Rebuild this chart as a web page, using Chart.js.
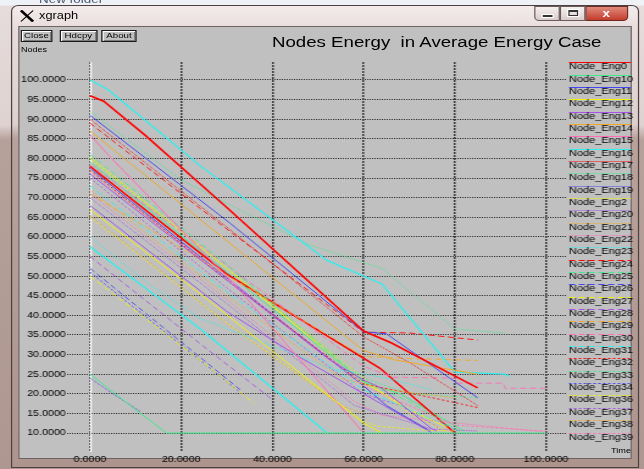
<!DOCTYPE html>
<html><head><meta charset="utf-8">
<script src="https://cdn.jsdelivr.net/npm/chart.js@4/dist/chart.umd.min.js"></script>
<style>
html,body{margin:0;padding:0;}
body{width:644px;height:469px;overflow:hidden;position:relative;background:linear-gradient(to bottom,#eef1f5 0,#eef1f5 5px,#e6dcdc 6px,#ded2d0 125px,#b6a09a 140px,#ae9790 100%);font-family:'Liberation Sans',Arial,sans-serif;}
#wrap{position:absolute;left:0;top:0;width:528px;height:469px;transform:scaleX(1.2197);transform-origin:0 0;}
.abs{position:absolute;white-space:pre;line-height:1;color:#000;}
#newf{left:32px;top:-6px;font-size:11px;color:#4a5872;}
#win{left:9px;top:5px;width:515px;height:463px;box-sizing:border-box;border:1px solid #4e4040;border-radius:6px 6px 0 0;background:linear-gradient(to bottom,#f3ecec 0,#e8dddc 22px,#ddd0ce 118px,#b9a29c 132px,#ad958e 100%);}
#client{left:14.8px;top:26px;width:503.2px;height:433px;box-sizing:border-box;background:#c0c0c0;border:1px solid #6e6262;}
.btn{position:absolute;top:30px;height:12px;box-sizing:border-box;border:1px solid #1a1a1a;background:#c0c0c0;box-shadow:inset 1px 1px 0 #fff,inset -1px -1px 0 #7a7a7a;font-size:8px;line-height:10px;text-align:center;color:#000;white-space:pre;}
.cap{position:absolute;top:6px;height:15px;box-sizing:border-box;border:1px solid #6a5a5a;background:linear-gradient(to bottom,#f6f0f0,#d9cdcc);}
</style></head>
<body>
<div id="wrap">
  <div id="newf" class="abs">New folder</div>
  <div id="win" class="abs"></div>
  <svg style="position:absolute;left:16.4px;top:10px;width:12.3px;height:12px" viewBox="0 0 12 12"><line x1="1" y1="0.5" x2="11" y2="11.5" stroke="#000" stroke-width="2.4"/><line x1="11" y1="0.5" x2="1" y2="11.5" stroke="#000" stroke-width="1.1"/></svg>
  <div class="abs" style="left:32px;top:9.6px;font-size:10.5px;">xgraph</div>
  <div class="cap" style="left:438px;width:21px;border-radius:0 0 0 4px;"><div style="position:absolute;left:6px;top:8px;width:8px;height:2px;background:#333;box-shadow:0 0 0 1px #fff"></div></div>
  <div class="cap" style="left:459px;width:21px;"><div style="position:absolute;left:5.5px;top:3px;width:8px;height:6px;box-sizing:border-box;border:1px solid #333;border-top-width:2px;box-shadow:0 0 0 1px #fff"></div></div>
  <div class="cap" style="left:480px;width:35px;border-radius:0 0 4px 0;background:linear-gradient(to bottom,#e08a7c,#c43c2c);border-color:#6a2a22;"><div class="abs" style="left:13px;top:1px;font-size:11px;font-weight:bold;color:#fff;">x</div></div>
  <div id="client" class="abs"></div>
  <div class="btn" style="left:17.2px;width:25.4px;">Close</div>
  <div class="btn" style="left:49px;width:30.5px;">Hdcpy</div>
  <div class="btn" style="left:82.8px;width:29.5px;">About</div>
  <div class="abs" style="left:223px;top:33.5px;font-size:15.3px;">Nodes Energy  in Average Energy Case</div>
  <div class="abs" style="left:17.2px;top:46.4px;font-size:7.4px;">Nodes</div>
  <div class="abs" style="left:501px;top:447px;font-size:7.5px;">Time</div>
  <canvas id="c" width="528" height="469" style="position:absolute;left:0;top:0;width:528px;height:469px;"></canvas>
</div>
<script>
// ---- data: [time, energy] pairs ----
const Node_Eng0  = [[0,96],[3,94.6],[12,86],[30,67.5],[60,36],[66,33],[85,21.5]];
const Node_Eng10 = [[0,25],[10.6,15.4],[16.8,10],[100,10]];
const Node_Eng11 = [[0,91],[30.7,63.5],[60,35.8],[65,35.3],[85,19]];
const Node_Eng12 = [[0,67],[24,45.6],[60,12.5],[64,10]];
const Node_Eng13 = [[0,76],[52.6,28.6],[60,23.5],[64,21.4],[75,11],[76,10.6]];
const Node_Eng14 = [[0,87],[30,59],[60,31],[67,28.6],[85,25]];
const Node_Eng15 = [[0,86],[4.4,80.4],[32,47.5],[60,10]];
const Node_Eng16 = [[0,100],[4,97.5],[24,78.3],[52,54],[64,48],[80,25.5],[91,25],[92,24.4]];
const Node_Eng17 = [[0,90],[30,62.5],[60,34.5],[70,28],[85,17]];
const Node_Eng18 = [[0,92],[20,74.5],[48,58],[64,52],[80,36.5],[91,35.5]];
const Node_Eng19 = [[0,24],[5,20],[11,15.5]];
const Node_Eng2  = [[0,80.5],[30,52],[60,24],[70,15],[78,10.5]];
const Node_Eng20 = [[0,70],[30,43],[58,17],[75,11],[85,10.5]];
const Node_Eng21 = [[0,72],[30,45],[55,24],[65,21],[80,19]];
const Node_Eng22 = [[0,71],[30,44],[58,18],[64,14.5],[100,10.2]];
const Node_Eng23 = [[0,60],[13.5,47.5],[24,39.3],[52.6,26.5],[65,24],[75,21]];
const Node_Eng24 = [[0,89],[30,62],[60,35.7],[70,35.5],[85,33.7]];
const Node_Eng25 = [[0,81],[30,53],[60,23],[70,18],[80,11],[82,10]];
const Node_Eng26 = [[0,52],[33.5,20.5]];
const Node_Eng27 = [[0,50],[26,26.9],[36,17.5]];
const Node_Eng28 = [[0,55],[25,32],[40,18.5]];
const Node_Eng29 = [[0,71],[60,29.5],[70,29],[85,28.5]];
const Node_Eng30 = [[0,78.5],[60,27],[66.5,24.2],[80,24],[80.5,22.7],[90.6,22.7],[91,21.4],[100,21.4]];
const Node_Eng31 = [[0,73],[30,46],[60,21],[80,11]];
const Node_Eng32 = [[0,77],[30,49],[60,22.5],[75,19],[85,16.5]];
const Node_Eng33 = [[0,80],[30,52],[60,24],[70,20],[85,19]];
const Node_Eng34 = [[0,51],[33,20.3]];
const Node_Eng36 = [[0,65],[30,38],[60,13],[63,11.7],[74,10.7],[80,10.5]];
const Node_Eng37 = [[0,75],[30,47],[60,20],[68,17],[77,11]];
const Node_Eng38 = [[0,65.5],[30,38],[55,17],[60,15]];
const Node_Eng39 = [[0,76.5],[30,49.5],[60,22],[80,12],[100,10.5]];
// sets beyond the visible (cut-off) legend
const Node_Eng4 = [[0,57.5],[24,36.7],[52,10]];
const Node_Eng5 = [[0,78],[30,50.5],[63.6,26.5],[80,10]];
const Node_Eng6 = [[0,79],[30,51],[60,23],[68,20],[82,10.5]];
const Node_Eng7 = [[0,77.5],[30,49.5],[60,22],[65,17],[74.6,10.5]];
const Node_Eng8 = [[0,80],[30,52],[60,23],[70,16],[80,10.5]];
const Node_Eng9 = [[0,68],[30,41],[45,30],[60,20],[75,10]];

const legendNames = ['Node_Eng0','Node_Eng10','Node_Eng11','Node_Eng12','Node_Eng13','Node_Eng14','Node_Eng15','Node_Eng16','Node_Eng17','Node_Eng18','Node_Eng19','Node_Eng2','Node_Eng20','Node_Eng21','Node_Eng22','Node_Eng23','Node_Eng24','Node_Eng25','Node_Eng26','Node_Eng27','Node_Eng28','Node_Eng29','Node_Eng30','Node_Eng31','Node_Eng32','Node_Eng33','Node_Eng34','Node_Eng36','Node_Eng37','Node_Eng38','Node_Eng39'];
const extraNames = ['Node_Eng4','Node_Eng5','Node_Eng6','Node_Eng7','Node_Eng8','Node_Eng9'];
const seriesData = {Node_Eng0,Node_Eng10,Node_Eng11,Node_Eng12,Node_Eng13,Node_Eng14,Node_Eng15,Node_Eng16,Node_Eng17,Node_Eng18,Node_Eng19,Node_Eng2,Node_Eng20,Node_Eng21,Node_Eng22,Node_Eng23,Node_Eng24,Node_Eng25,Node_Eng26,Node_Eng27,Node_Eng28,Node_Eng29,Node_Eng30,Node_Eng31,Node_Eng32,Node_Eng33,Node_Eng34,Node_Eng36,Node_Eng37,Node_Eng38,Node_Eng39,Node_Eng4,Node_Eng5,Node_Eng6,Node_Eng7,Node_Eng8,Node_Eng9};
const xTicks = [0,20,40,60,80,100];
const yTicks = [10,15,20,25,30,35,40,45,50,55,60,65,70,75,80,85,90,95,100];

// ---- styles ----
const palette = ['#ff0000','#3eea8c','#4646f0','#f2f200','#a452e8','#f0a828','#ff6eb4','#30eeee'];
const dashes = [[],[1,1],[5,3],[2,2]];
const FONT = "'Liberation Sans', Arial, sans-serif";
const allNames = legendNames.concat(extraNames);
const datasets = allNames.map((n,i)=>{
  const grp = i < legendNames.length ? Math.floor(i/8) : 0;
  let w = grp === 0 ? 1 : 0.9;
  if (n==='Node_Eng0' || n==='Node_Eng5') w = 1.6;
  if (n==='Node_Eng16' || n==='Node_Eng4') w = 1.3;
  return {label:n, data:seriesData[n].map(p=>({x:p[0],y:p[1]})), borderColor:palette[i%8],
    borderWidth:w, borderDash:dashes[grp], pointRadius:0, fill:false, tension:0, borderCapStyle:'butt'};
});

const zeroLine = {id:'zeroLine', beforeDatasetsDraw(chart){
  const {ctx, chartArea:a, scales:{x}} = chart; const px = Math.round(x.getPixelForValue(0))+0.5;
  ctx.save(); ctx.strokeStyle='#ffffff'; ctx.lineWidth=1.4; ctx.beginPath(); ctx.moveTo(px,a.top); ctx.lineTo(px,a.bottom); ctx.stroke(); ctx.restore();
}};
const sideLegend = {id:'sideLegend', afterDraw(chart){
  const ctx = chart.ctx; ctx.save();
  legendNames.forEach((n,i)=>{
    const ds = chart.data.datasets[i]; const y = Math.round(62.3 + i*12.34)+0.5;
    ctx.strokeStyle = ds.borderColor; ctx.lineWidth = 1; ctx.setLineDash(ds.borderDash);
    ctx.beginPath(); ctx.moveTo(466.5,y); ctx.lineTo(517.3,y); ctx.stroke();
    ctx.setLineDash([]); ctx.fillStyle='#000'; ctx.font = '9px '+FONT; ctx.textAlign='left'; ctx.textBaseline='alphabetic';
    ctx.fillText(n, 466.5, y+6.8);
  });
  ctx.restore();
}};

new Chart(document.getElementById('c'), {
  type:'line',
  data:{datasets},
  plugins:[zeroLine, sideLegend],
  options:{
    responsive:false, animation:false, devicePixelRatio:1,
    layout:{padding:{left:8,right:64,top:62,bottom:5}},
    plugins:{legend:{display:false}, tooltip:{enabled:false}, title:{display:false}},
    scales:{
      x:{type:'linear', min:-5.026, max:104.373,
        afterBuildTicks:s=>{s.ticks = xTicks.map(v=>({value:v}));},
        afterFit:s=>{s.height = 12;},
        ticks:{callback:v=>Number(v).toFixed(4), font:{family:FONT,size:8.8}, color:'#000', padding:2, maxRotation:0, autoSkip:false},
        grid:{color:'#3a3a3a', lineWidth:1.5, drawTicks:false},
        border:{display:false, dash:[2,1]}},
      y:{type:'linear', min:5.156, max:104.589,
        afterBuildTicks:s=>{s.ticks = yTicks.map(v=>({value:v}));},
        afterFit:s=>{s.width = 47;},
        ticks:{callback:v=>Number(v).toFixed(4), font:{family:FONT,size:8.8}, color:'#000', padding:1, autoSkip:false},
        grid:{color:'#2c2c2c', lineWidth:1, drawTicks:false},
        border:{display:false, dash:[1,1]}}
    }
  }
});
</script>
</body></html>
